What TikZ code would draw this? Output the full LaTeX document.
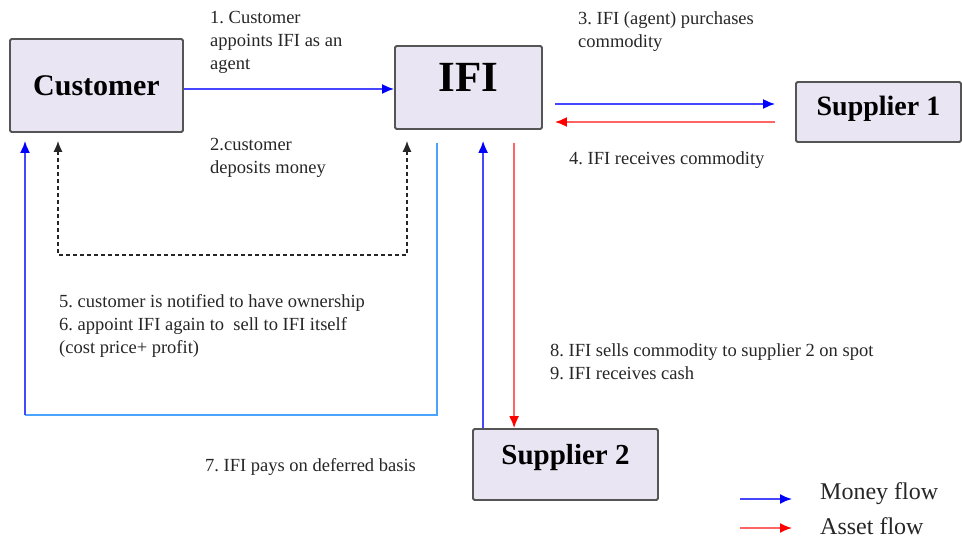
\documentclass[tikz,border=0pt]{standalone}
\usepackage{fontspec}
\setmainfont{Liberation Serif}
\frenchspacing
\usetikzlibrary{arrows.meta,calc,positioning}
\definecolor{boxfill}{HTML}{E9E5F3}
\definecolor{boxline}{HTML}{555555}
\definecolor{moneyline}{HTML}{4646FF}
\definecolor{assetline}{HTML}{FF6464}
\definecolor{paidline}{HTML}{4AA3FF}

\tikzset{
  party/.style={draw=boxline,fill=boxfill,line width=1.8pt,rounded corners=1.5pt,inner sep=0pt},
  note/.style={align=left,inner sep=0pt,anchor=north west,text=black!85,font=\fontsize{18.5}{23}\selectfont},
  legendtext/.style={anchor=west,inner sep=0pt,text=black!85,font=\fontsize{24}{28}\selectfont},
  money/.style={moneyline,line width=1.8pt,-{Latex[length=12pt,width=10pt,color=blue]}},
  asset/.style={assetline,line width=1.8pt,-{Latex[length=12pt,width=10pt,color=red]}},
  paid/.style={paidline,line width=1.3pt},
  deposit/.style={black!85,line width=1.3pt,dash pattern=on 4pt off 3pt,{Latex[length=11pt,width=9pt]}-{Latex[length=11pt,width=9pt]}},
}

\begin{document}
\begin{tikzpicture}[x=1pt,y=-1pt]
\useasboundingbox (0,0) rectangle (962,540);
% parties
\node[party,minimum width=173pt,minimum height=93pt,font=\bfseries\fontsize{30}{36}\selectfont] (cust) at (96.5,85.5) {Customer};
\node[party,minimum width=147pt,minimum height=83pt,text height=29pt,text depth=20pt,font=\bfseries\fontsize{43}{50}\selectfont] (ifi) at (468.5,87.5) {IFI};
\node[party,minimum width=165pt,minimum height=60pt,text depth=12pt,font=\bfseries\fontsize{28}{34}\selectfont] (sup1) at (878.5,112) {Supplier 1};
\node[party,minimum width=185pt,minimum height=71pt,text depth=20pt,font=\bfseries\fontsize{29}{34}\selectfont] (sup2) at (565.5,464.5) {Supplier 2};

% step labels
\node[note] (s1) at (210,11) {1. Customer\\appoints IFI as an\\agent};
\node[note] (s2) at (210,138) {2.customer\\deposits money};
\node[note] (s3) at (578,11) {3. IFI (agent) purchases\\commodity};
\node[note] (s4) at (569,151) {4. IFI receives commodity};
\node[note] (s56) at (59,294) {5. customer is notified to have ownership\\6. appoint IFI again to\ \ sell to IFI itself\\(cost price+ profit)};
\node[note] (s89) at (550,343) {8. IFI sells commodity to supplier 2 on spot\\9. IFI receives cash};
\node[note] (s7) at (205,458) {7. IFI pays on deferred basis};

% corners of the loops
\coordinate (dl) at (58,255);
\coordinate (dr) at (407,255);
\coordinate (bl) at (25,415);
\coordinate (br) at (437,415);

% flows
\draw[money] ([yshift=-3.5pt]cust.east) -- ([yshift=-3.5pt]cust.east -| ifi.west);
\draw[money,shorten <=12pt,shorten >=20pt] ([yshift=-16.5pt]ifi.east) -- ([yshift=-16.5pt]ifi.east -| sup1.west);
\draw[asset,shorten <=20pt,shorten >=12pt] ([yshift=-34.5pt]ifi.east -| sup1.west) -- ([yshift=-34.5pt]ifi.east);
\draw[deposit,shorten <=8pt,shorten >=11pt] (dl |- cust.south) -- (dl) -- (dr) -- (dr |- ifi.south);
\draw[paid,shorten <=13pt] (br |- ifi.south) -- (br) -- (bl);
\draw[money,shorten >=8pt] (bl) -- (bl |- cust.south);
\draw[money,shorten >=11pt] ([xshift=11pt]sup2.north west) -- ([xshift=11pt]sup2.north west |- ifi.south);
\draw[asset,shorten <=13pt] ([xshift=42pt]sup2.north west |- ifi.south) -- ([xshift=42pt]sup2.north west);

% legend
\node[legendtext] (lmoney) at (820,494) {Money flow};
\node[legendtext] (lasset) at (820,526) {Asset flow};
\coordinate (lm) at (740,499);
\coordinate (la) at (740,528);
\draw[money] (lm) -- ++(52,0);
\draw[asset] (la) -- ++(52,0);
\end{tikzpicture}
\end{document}
